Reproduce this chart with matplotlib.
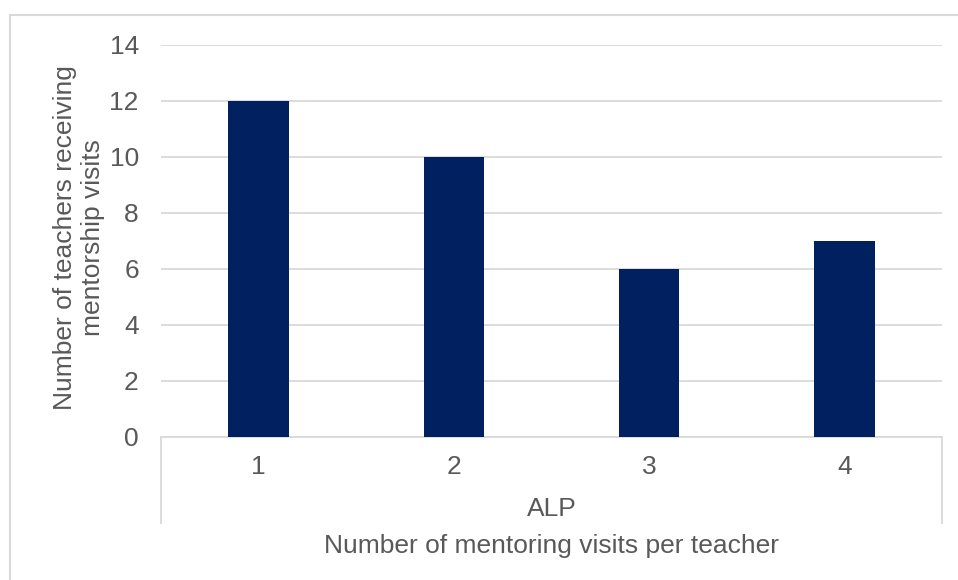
import matplotlib.pyplot as plt
from matplotlib.lines import Line2D

plt.rcParams['font.family'] = ['Liberation Sans', 'DejaVu Sans']

# number of mentoring visits per teacher (ALP group)
visits = ['1', '2', '3', '4']
teachers = [12, 10, 6, 7]
group_label = 'ALP'

W, H = 958, 580
text_color = '#595959'
grid_color = '#d9d9d9'
bar_color = '#002060'
fs = 19

fig = plt.figure(figsize=(W / 100, H / 100), dpi=100)

# plot area in pixel coordinates
left, right, top, bottom = 161, 942, 45, 437
ax = fig.add_axes([left / W, 1 - bottom / H, (right - left) / W, (bottom - top) / H])

x = range(len(visits))
ax.bar(x, teachers, width=0.31, color=bar_color, zorder=3)
ax.set_xlim(-0.5, len(visits) - 0.5)
ax.set_ylim(0, 14)
ax.set_yticks(range(0, 15, 2))
ax.set_xticks(list(x))
ax.set_xticklabels(visits)
ax.tick_params(axis='both', length=0, labelsize=fs, colors=text_color)
ax.tick_params(axis='x', pad=13)
ax.tick_params(axis='y', pad=16)
ax.grid(axis='y', color=grid_color, linewidth=1.3, zorder=0)
for side in ['top', 'right', 'left']:
    ax.spines[side].set_visible(False)
ax.spines['bottom'].set_color(grid_color)
ax.spines['bottom'].set_linewidth(1.3)

# group separators below the category axis
sep_bottom = -(523 - bottom) / (bottom - top)
for xs in (0, 1):
    ax.add_line(Line2D([xs, xs], [0, sep_bottom], transform=ax.transAxes,
                       color=grid_color, linewidth=1.3, clip_on=False))

ax.text(0.5, -(509 - bottom) / (bottom - top), group_label, transform=ax.transAxes,
        ha='center', va='center', fontsize=fs, color=text_color)
fig.text((left + right) / 2 / W, 1 - 546 / H, 'Number of mentoring visits per teacher',
         ha='center', va='center', fontsize=fs, color=text_color)
fig.text(79 / W, 1 - 238 / H, 'Number of teachers receiving\nmentorship visits',
         ha='center', va='center', rotation=90, fontsize=fs, color=text_color,
         linespacing=1.2)

# chart frame
fig.add_artist(Line2D([10 / W, 1], [1 - 15 / H, 1 - 15 / H], color=grid_color, linewidth=1.5))
fig.add_artist(Line2D([10 / W, 10 / W], [0, 1 - 15 / H], color=grid_color, linewidth=1.5))

fig.savefig('out.png', dpi=100)
